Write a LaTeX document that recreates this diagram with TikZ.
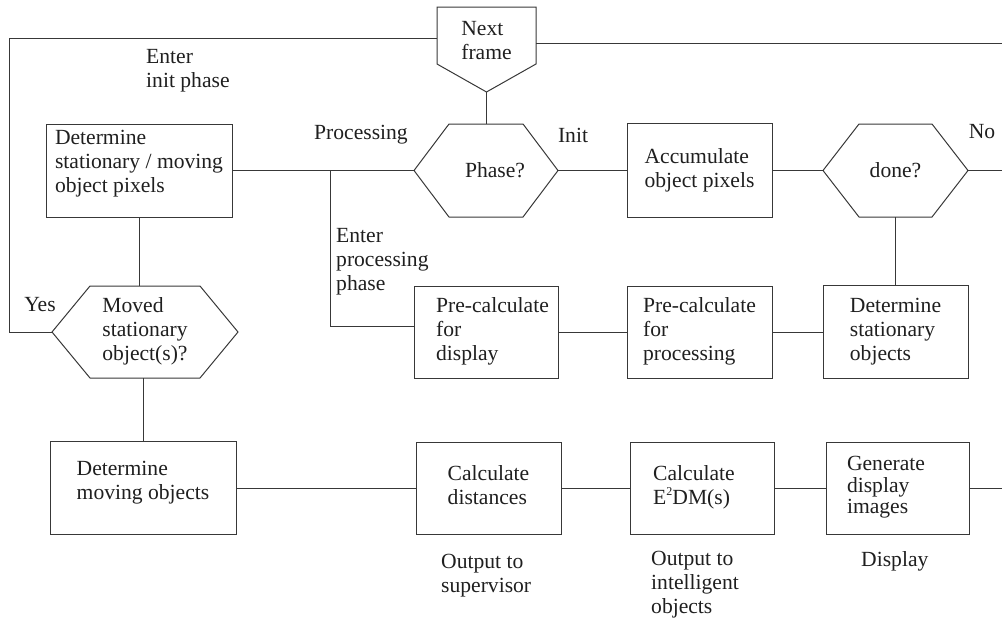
\documentclass[tikz,border=0pt]{standalone}
\usepackage{fontspec}
\setmainfont{Liberation Serif}
\usetikzlibrary{calc}
\newcommand\dfont{\fontsize{21.6}{24}\selectfont}
\newcommand\tb[1]{\begin{tabular}[t]{@{}l@{}}#1\end{tabular}}
\newcommand\supt[1]{\raisebox{9pt}{\fontsize{12}{12}\selectfont #1}}
\newcommand\hexdraw[2]{\draw[ln] (#1.west) -- ($(#1.north west)+(#2,0)$) -- ($(#1.north east)+(-#2,0)$) -- (#1.east) -- ($(#1.south east)+(-#2,0)$) -- ($(#1.south west)+(#2,0)$) -- cycle;}
\tikzset{
  ln/.style={draw=black!78, line width=1pt},
  box/.style={ln, rectangle, inner sep=0pt, text=black!88, font=\dfont},
  hexn/.style={rectangle, draw=none, inner sep=0pt, outer sep=0pt, text=black!88, font=\dfont},
  lbl/.style={inner sep=0pt, text=black!88, font=\dfont},
}
\begin{document}
\begin{tikzpicture}[x=1pt,y=-1pt]
\useasboundingbox (0,0) rectangle (1002,619);
% Next frame (pentagon)
\node[hexn, minimum width=99pt, minimum height=71pt] (next) at (486.5,42.5) {\tb{Next\\frame}};
\draw[ln] (next.north west) -- (next.north east) -- ($(next.south east)+(0,-14)$) -- ($(next.south)+(0,14)$) -- ($(next.south west)+(0,-14)$) -- cycle;
\coordinate (tip) at ($(next.south)+(0,14)$);
% row 1
\node[hexn, minimum width=144pt, minimum height=93pt] (phase) at (486,170.5) {\hspace*{18pt}Phase?};
\hexdraw{phase}{35}
\node[box, minimum width=186pt, minimum height=93pt] (det) at (139,170.5) {\tb{Determine\\stationary / moving\\object pixels}\rule[-69.2pt]{0pt}{69.2pt}};
\node[box, minimum width=145pt, minimum height=94pt] (acc) at (699.5,170.5) {\tb{Accumulate\\object pixels}};
\node[hexn, minimum width=145pt, minimum height=93pt] (done) at (895.5,170.5) {done?};
\hexdraw{done}{36}
% row 2
\node[hexn, minimum width=186pt, minimum height=92pt] (moved) at (145,332) {\tb{Moved\\stationary\\object(s)?}};
\hexdraw{moved}{38}
\node[box, minimum width=144pt, minimum height=92pt] (pcd) at (486,332) {\hspace*{13pt}\tb{Pre-calculate\\for\\display}};
\node[box, minimum width=145pt, minimum height=92pt] (pcp) at (699.5,332) {\tb{Pre-calculate\\for\\processing}};
\node[box, minimum width=145pt, minimum height=93pt] (dso) at (895.5,332) {\tb{Determine\\stationary\\objects}};
% row 3
\node[box, minimum width=186pt, minimum height=93pt] (dmo) at (143,488) {\tb{Determine\\moving objects}\rule[-42.2pt]{0pt}{42.2pt}};
\node[box, minimum width=145pt, minimum height=92pt] (cd) at (488.5,488) {\tb{Calculate\\distances}};
\node[box, minimum width=144pt, minimum height=92pt] (e2) at (702,488) {\tb{Calculate\\E\supt{2}DM(s)}\hspace*{16pt}};
\node[box, minimum width=143pt, minimum height=92pt, font=\fontsize{21.6}{21.5}\selectfont] (gd) at (897.5,488) {\tb{Generate\\display\\images}\hspace*{23pt}};
% labels
\node[lbl, anchor=west] (lInit) at (146,71) {\tb{Enter\\init phase}};
\node[lbl] (lProc) at (361,135) {Processing};
\node[lbl] (lI) at (573,135) {Init};
\node[lbl] (lNo) at (982,132) {No};
\node[lbl] (lYes) at (40,305) {Yes};
\node[lbl, anchor=west] (lEP) at (336,262) {\tb{Enter\\processing\\phase}};
\node[lbl, anchor=west] (lOS) at (441,576) {\tb{Output to\\supervisor}};
\node[lbl, anchor=west] (lOI) at (651,584.5) {\tb{Output to\\intelligent\\objects}};
\node[lbl, anchor=west] (lD) at (861,561) {Display};
% connectors
\draw[ln] (det.east) -- (phase.west);
\coordinate (jn) at (330,170.5);
\draw[ln] (jn) |- ($(pcd.west)+(0,-6)$);
\draw[ln] (tip) -- (tip |- phase.north);
\draw[ln] (phase.east) -- (acc.west);
\draw[ln] (acc.east) -- (done.west);
\coordinate (rdone) at (1002,170.5);
\draw[ln] (done.east) -- (rdone);
\draw[ln] (done.south) -- (dso.north);
\draw[ln] (pcd.east) -- (pcp.west);
\draw[ln] (pcp.east) -- (dso.west);
\draw[ln] (det.south) -- (det.south |- moved.north);
\draw[ln] (dmo.north |- moved.south) -- (dmo.north);
\coordinate (lb) at (9,332);
\coordinate (lt) at (9,38);
\draw[ln] (moved.west) -- (lb) -- (lt) -- (lt -| next.west);
\coordinate (rt) at (1002,43);
\draw[ln] (rt -| next.east) -- (rt);
\draw[ln] (dmo.east) -- (cd.west);
\draw[ln] (cd.east) -- (e2.west);
\draw[ln] (e2.east) -- (gd.west);
\coordinate (rg) at (1002,488);
\draw[ln] (gd.east) -- (rg);
\end{tikzpicture}
\end{document}
